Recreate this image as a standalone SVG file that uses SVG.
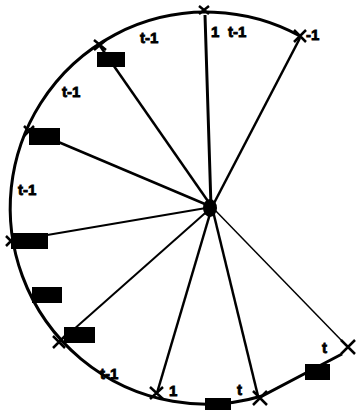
<svg xmlns="http://www.w3.org/2000/svg" width="360" height="413" viewBox="0 0 360 413">
<style>
.arc{fill:none;stroke:#000;stroke-width:3}
.sp{stroke:#000;stroke-width:2.5;fill:none}
.thin{stroke-width:1.5}
.mk{stroke:#000;stroke-width:2.5;fill:none}
.blk{fill:#000}
.lb{font-family:"Liberation Sans",Arial,sans-serif;font-size:15px;font-weight:bold;fill:#000;stroke:#000;stroke-width:0.8}
</style>
<rect width="360" height="413" fill="#fff"/>
<path class="arc" d="M300,36 A196,196 0 1 0 262,396 L342,354"/>
<g id="connectors">
<line class="sp" x1="205" y1="15" x2="211" y2="207" style="stroke-width:3"/>
<line class="sp" x1="300" y1="38" x2="212" y2="207"/>
<line class="sp" x1="100" y1="46" x2="212" y2="207"/>
<line class="sp" x1="30" y1="130" x2="212" y2="207"/>
<line class="sp" x1="12" y1="241" x2="212" y2="207" style="stroke-width:2"/>
<line class="sp" x1="64" y1="338" x2="212" y2="207" style="stroke-width:2"/>
<line class="sp" x1="157" y1="393" x2="212" y2="207"/>
<line class="sp" x1="258" y1="396" x2="212" y2="207"/>
<line class="sp thin" x1="343" y1="342" x2="212" y2="207"/>
</g>
<g id="hub"><ellipse class="blk" cx="210" cy="208" rx="7" ry="9"/></g>
<g id="n-top"><path class="mk" d="M199,6 L209,14 M209,6 L199,14"/><text class="lb" x="211" y="37">1</text><text class="lb" x="228" y="37">t-1</text></g>
<g id="n-topright"><path class="mk" d="M294,30 L306,42 M306,30 L294,42"/><text class="lb" x="306" y="40">-1</text></g>
<g id="n-upperleft"><path class="mk" d="M94,40 L106,50 M106,40 L94,50"/><rect class="blk" x="97" y="52" width="28" height="15"/><text class="lb" x="140" y="43">t-1</text></g>
<g id="n-midleft"><text class="lb" x="62" y="97">t-1</text></g>
<g id="n-left1"><path class="mk" d="M24,126 L34,136 M34,126 L24,136"/><rect class="blk" x="29" y="128" width="31" height="17"/></g>
<g id="n-left2"><text class="lb" x="18" y="195">t-1</text></g>
<g id="n-left3"><path class="mk" d="M6,236 L16,246 M16,236 L6,246"/><rect class="blk" x="11" y="233" width="37" height="16"/></g>
<g id="n-left4"><rect class="blk" x="32" y="287" width="30" height="16"/></g>
<g id="n-lowerleft"><path class="mk" d="M53,336 L65,348 M65,336 L53,348"/><rect class="blk" x="64" y="327" width="31" height="16"/></g>
<g id="n-bottomleft"><text class="lb" x="100" y="379">t-1</text></g>
<g id="n-bottom1"><path class="mk" d="M150,387 L163,399 M163,387 L150,399"/><text class="lb" x="169" y="396">1</text></g>
<g id="n-bottom2"><rect class="blk" x="205" y="398" width="26" height="12"/></g>
<g id="n-bottom3"><path class="mk" d="M253,391 L267,405 M267,391 L253,405"/><text class="lb" x="237" y="395">t</text></g>
<g id="n-right"><rect class="blk" x="305" y="364" width="25" height="16"/><path class="mk" d="M341,340 L355,354 M355,340 L341,354"/><text class="lb" x="322" y="353">t</text></g>
</svg>
